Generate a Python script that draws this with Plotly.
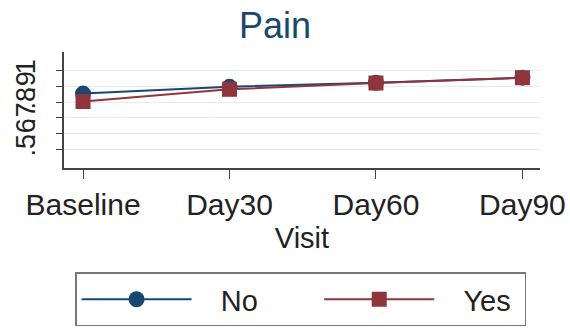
import plotly.graph_objects as go

visits = ["Baseline", "Day30", "Day60", "Day90"]
no_vals = [0.855, 0.898, 0.924, 0.956]
yes_vals = [0.804, 0.882, 0.922, 0.956]
y_ticks = [0.5, 0.6, 0.7, 0.8, 0.9, 1.0]
y_ticktext = [".5", ".6", ".7", ".8", ".9", "1"]

NAVY = "#1a476f"
MAROON = "#90353b"
FONT = "Liberation Sans, Arial, sans-serif"
NB = "\u00a0"

fig = go.Figure()
fig.add_trace(go.Scatter(x=visits, y=no_vals, name=NB * 3 + "No" + NB * 7, mode="lines+markers",
                         line=dict(color=NAVY, width=2),
                         marker=dict(symbol="circle", size=16, color=NAVY)))
fig.add_trace(go.Scatter(x=visits, y=yes_vals, name=NB * 3 + "Yes" + NB, mode="lines+markers",
                         line=dict(color=MAROON, width=2),
                         marker=dict(symbol="square", size=15, color=MAROON)))

fig.update_layout(
    template="none",
    width=570, height=330,
    margin=dict(l=64, r=30, t=52, b=162, autoexpand=False),
    paper_bgcolor="white", plot_bgcolor="white",
    font=dict(family=FONT, size=29, color="#222222"),
    title=dict(text="Pain", x=275 / 570, xanchor="center", y=1 - 25 / 330, yanchor="middle",
               yref="container", font=dict(size=36, color=NAVY)),
    showlegend=True,
    legend=dict(orientation="h", x=0.497, xanchor="center", y=-0.90, yanchor="top",
                bordercolor="#777777", borderwidth=1.5, itemwidth=110,
                font=dict(size=29), bgcolor="white"),
    xaxis=dict(type="category", range=[-0.13, 3.12], showgrid=False, automargin=False,
               showline=True, linecolor="#444444", linewidth=1.5,
               ticks="outside", ticklen=9, tickcolor="#444444",
               title=dict(text="Visit", standoff=8, font=dict(size=29)),
               tickfont=dict(size=30)),
    yaxis=dict(range=[0.38, 1.12], tickvals=y_ticks, ticktext=y_ticktext, automargin=False,
               tickangle=-90, showgrid=True, gridcolor="#e6ecee", gridwidth=1,
               zeroline=False, showline=True, linecolor="#444444", linewidth=1.5,
               ticks="outside", ticklen=6, tickcolor="#444444",
               ticklabelstandoff=10, tickfont=dict(size=27)),
)

fig.write_html("out.html", config={"displayModeBar": False},
               post_script="document.body.style.margin='0';")
